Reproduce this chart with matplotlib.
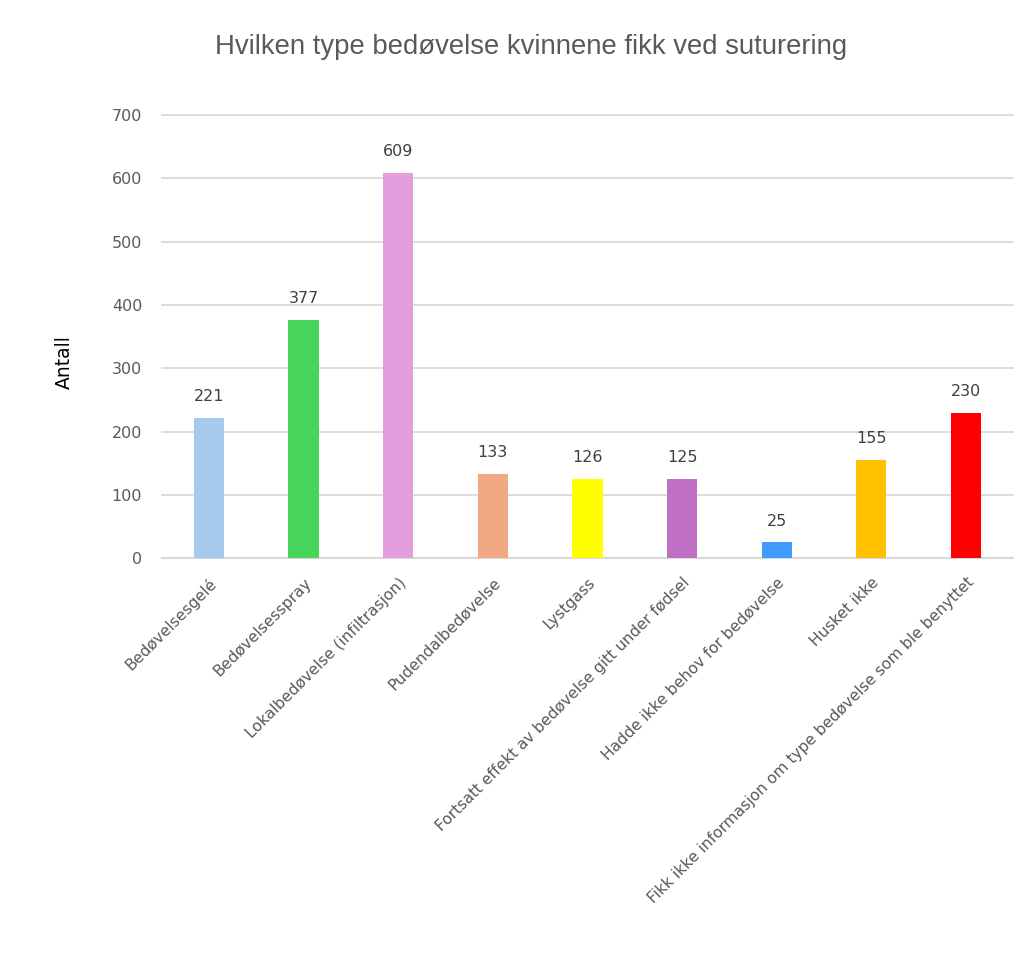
import matplotlib.pyplot as plt
import numpy as np

categories = ['Bedøvelsesgelé', 'Bedøvelsesspray', 'Lokalbedøvelse (infiltrasjon)',
              'Pudendalbedøvelse', 'Lystgass', 'Fortsatt effekt av bedøvelse gitt under fødsel',
              'Hadde ikke behov for bedøvelse', 'Husket ikke',
              'Fikk ikke informasjon om type bedøvelse som ble benyttet']
values = [221, 377, 609, 133, 126, 125, 25, 155, 230]
colors = ['#A6CAEC', '#47D45A', '#E59EDD', '#F1A983', '#FFFF00',
          '#BF6FC4', '#3E9BFF', '#FFC000', '#FF0000']
yticks = [0, 100, 200, 300, 400, 500, 600, 700]

plt.rcParams['font.family'] = ['DejaVu Sans']
gray = '#595959'

fig = plt.figure(figsize=(10.36, 9.76), dpi=100)
ax = fig.add_axes([0.156, 0.428, 0.822, 0.454])

x = np.arange(len(categories))
bars = ax.bar(x, values, width=0.32, color=colors, zorder=3)

# value labels above each bar
for b, v in zip(bars, values):
    ax.annotate(str(v), (b.get_x() + b.get_width() / 2, v), xytext=(0, 10),
                textcoords='offset points', ha='center', va='bottom',
                fontsize=11.5, color='#404040')

ax.set_xlim(-0.5, len(categories) - 0.5)
ax.set_ylim(0, 700)
ax.set_yticks(yticks)
ax.set_yticklabels([str(t) for t in yticks], fontsize=11.5, color=gray)
ax.set_xticks(x)
ax.set_xticklabels(categories, rotation=45, ha='right', rotation_mode='anchor',
                   fontsize=11.2, color=gray)
ax.tick_params(axis='both', length=0)
ax.tick_params(axis='y', pad=14)
ax.tick_params(axis='x', pad=12)

ax.grid(axis='y', color='#D9D9D9', linewidth=1.3, zorder=0)
for gl in ax.get_ygridlines():
    gl.set_clip_on(False)
for s in ['top', 'right', 'left']:
    ax.spines[s].set_visible(False)
ax.spines['bottom'].set_color('#D9D9D9')
ax.spines['bottom'].set_linewidth(1.5)

ax.set_ylabel('Antall', fontsize=13.5, color='black', fontweight='medium')
ax.yaxis.set_label_coords(-0.103, 0.442)
fig.text(0.513, 0.952, 'Hvilken type bedøvelse kvinnene fikk ved suturering',
         ha='center', va='center', fontsize=19.8, color=gray,
         family=['Liberation Sans', 'DejaVu Sans'])

plt.savefig('out.png')
